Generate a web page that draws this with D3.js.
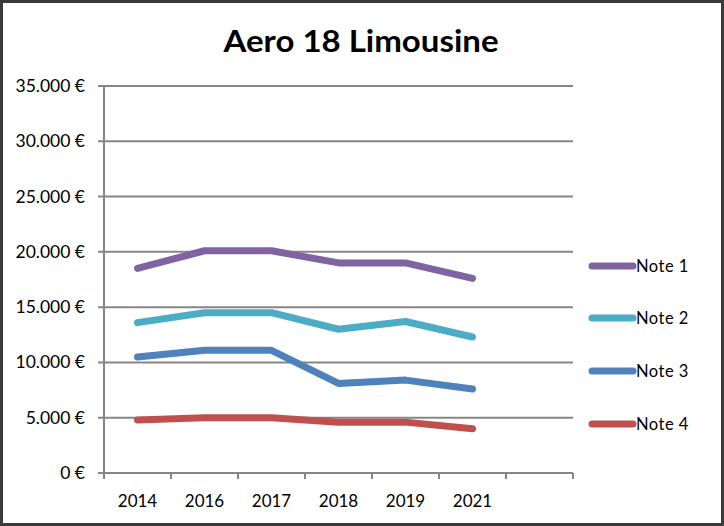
<!DOCTYPE html>
<meta charset="utf-8">
<style>
body { margin: 0; background: #fff; }
text { font-family: Lato, "Open Sans", sans-serif; fill: #000; }
</style>
<body>
<script src="https://cdn.jsdelivr.net/npm/d3@7"></script>
<script>

var years = ["2014", "2016", "2017", "2018", "2019", "2021", ""];
var seriesNames = ["Note 1", "Note 2", "Note 3", "Note 4"];
var colors = ["#8064A2", "#4BACC6", "#4F81BD", "#C0504D"];
var note1 = [18500, 20100, 20100, 19000, 19000, 17600];
var note2 = [13600, 14500, 14500, 13000, 13700, 12300];
var note3 = [10500, 11100, 11100, 8100, 8400, 7600];
var note4 = [4800, 5000, 5000, 4600, 4600, 4000];
var yTicks = [0, 5000, 10000, 15000, 20000, 25000, 30000, 35000];

var width = 724, height = 526;
var plot = {left: 104, right: 573, top: 86, bottom: 473};

var svg = d3.select("body").append("svg")
    .attr("width", width)
    .attr("height", height);

// outer frame
svg.append("rect")
    .attr("x", 1.5).attr("y", 1.5)
    .attr("width", width - 3).attr("height", height - 3)
    .attr("fill", "#fff")
    .attr("stroke", "#3a3a3a")
    .attr("stroke-width", 3);

var title = svg.append("text")
    .attr("x", 361).attr("y", 52)
    .attr("text-anchor", "middle")
    .style("font-weight", "bold")
    .style("font-size", "31px")
    .text("Aero 18 Limousine");
title.attr("textLength", 275).attr("lengthAdjust", "spacingAndGlyphs");

var x = d3.scaleBand().domain(years).range([plot.left, plot.right]);
var y = d3.scaleLinear().domain([0, 35000]).range([plot.bottom, plot.top]);

var fmt = function(d) {
  return d3.format(",")(d).replace(/,/g, ".") + " €";
};

// gridlines
svg.append("g")
  .selectAll("line")
  .data(yTicks)
  .join("line")
    .attr("x1", plot.left - 6)
    .attr("x2", plot.right)
    .attr("y1", function(d) { return y(d); })
    .attr("y2", function(d) { return y(d); })
    .attr("stroke", "#868686")
    .attr("stroke-width", 2);

// y axis labels
svg.append("g")
  .selectAll("text")
  .data(yTicks)
  .join("text")
    .attr("x", 85)
    .attr("y", function(d) { return y(d) + 6; })
    .attr("text-anchor", "end")
    .style("font-size", "17.5px")
    .text(fmt);

// y axis line
svg.append("line")
    .attr("x1", plot.left).attr("x2", plot.left)
    .attr("y1", plot.top).attr("y2", plot.bottom)
    .attr("stroke", "#868686")
    .attr("stroke-width", 2);

// x axis ticks
var edges = years.map(function(d) { return x(d); }).concat([plot.right]);
svg.append("g")
  .selectAll("line")
  .data(edges)
  .join("line")
    .attr("x1", function(d) { return d; })
    .attr("x2", function(d) { return d; })
    .attr("y1", plot.bottom)
    .attr("y2", plot.bottom + 6)
    .attr("stroke", "#868686")
    .attr("stroke-width", 2);

svg.append("g")
  .selectAll("text")
  .data(years)
  .join("text")
    .attr("x", function(d) { return x(d) + x.bandwidth() / 2; })
    .attr("y", 507)
    .attr("text-anchor", "middle")
    .style("font-size", "17px")
    .text(function(d) { return d; });

// series lines
var data = [note1, note2, note3, note4];
var line = d3.line()
    .x(function(d, i) { return x(years[i]) + x.bandwidth() / 2; })
    .y(function(d) { return y(d); });

svg.append("g")
  .selectAll("path")
  .data(data)
  .join("path")
    .attr("d", line)
    .attr("fill", "none")
    .attr("stroke", function(d, i) { return colors[i]; })
    .attr("stroke-width", 7)
    .attr("stroke-linecap", "round")
    .attr("stroke-linejoin", "round");

// legend
var legendY = [266, 318, 371, 424];
var lg = svg.append("g")
  .selectAll("g")
  .data(seriesNames)
  .join("g")
    .attr("transform", function(d, i) { return "translate(0," + legendY[i] + ")"; });

lg.append("line")
    .attr("x1", 592).attr("x2", 633)
    .attr("stroke", function(d, i) { return colors[i]; })
    .attr("stroke-width", 7)
    .attr("stroke-linecap", "round");

lg.append("text")
    .attr("x", 636)
    .attr("y", 6)
    .style("font-size", "16.5px")
    .style("letter-spacing", "0.5px")
    .text(function(d) { return d; });

</script>
</body>
